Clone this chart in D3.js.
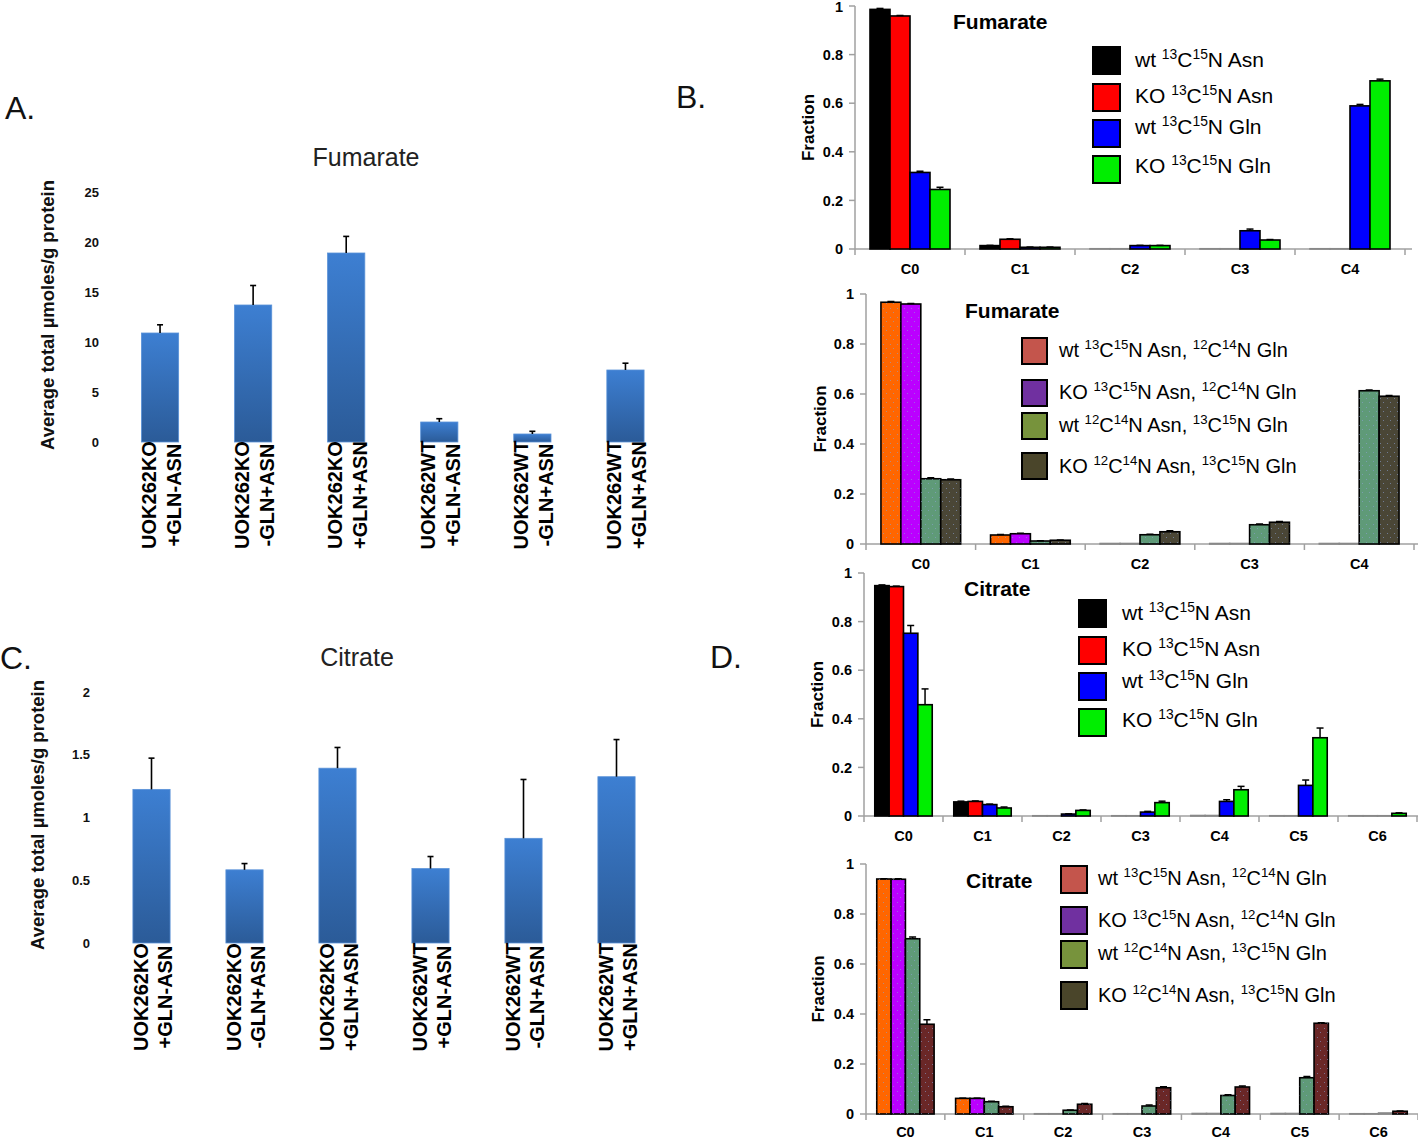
<!DOCTYPE html>
<html><head><meta charset="utf-8">
<script src="https://cdn.jsdelivr.net/npm/d3@7"></script>
<style>
body{margin:0;background:#fff;}
svg{display:block;font-family:"Liberation Sans",Arial,sans-serif;}
</style></head>
<body><svg id="fig" width="1418" height="1139"></svg>
<script>
// ---------- DATA ----------
const totalCatLine1 = ["UOK262KO","UOK262KO","UOK262KO","UOK262WT","UOK262WT","UOK262WT"];
const totalCatLine2 = ["+GLN-ASN","-GLN+ASN","+GLN+ASN","+GLN-ASN","-GLN+ASN","+GLN+ASN"];
const fumTotal    = [10.9, 13.7, 18.9, 2.0, 0.8, 7.2];
const fumTotalErr = [0.82, 1.95, 1.66, 0.33, 0.27, 0.68];
const fumTotalTicks = [0,5,10,15,20,25];
const citTotal    = [1.224, 0.583, 1.393, 0.593, 0.834, 1.325];
const citTotalErr = [0.249, 0.05, 0.165, 0.096, 0.469, 0.296];
const citTotalTicks = [0,0.5,1,1.5,2];

const fumIsoCats = ["C0","C1","C2","C3","C4"];
const citIsoCats = ["C0","C1","C2","C3","C4","C5","C6"];
const fracTicks = [0,0.2,0.4,0.6,0.8,1];

const legendSet1 = [["wt ","13","C","15","N Asn"],["KO ","13","C","15","N Asn"],["wt ","13","C","15","N Gln"],["KO ","13","C","15","N Gln"]];
const legendSet2 = [["wt ","13","C","15","N Asn, ","12","C","14","N Gln"],["KO ","13","C","15","N Asn, ","12","C","14","N Gln"],["wt ","12","C","14","N Asn, ","13","C","15","N Gln"],["KO ","12","C","14","N Asn, ","13","C","15","N Gln"]];

// Fumarate, 13C15N single tracers
const fumB1 = [
  [0.986, 0.014, 0.001, 0.001, 0.001],
  [0.959, 0.040, 0.001, 0.001, 0.001],
  [0.315, 0.007, 0.014, 0.075, 0.589],
  [0.245, 0.007, 0.014, 0.037, 0.692]];
const fumB1Err = [
  [0.004,0.001,0,0,0],
  [0.002,0.002,0,0,0],
  [0.005,0.001,0.001,0.007,0.006],
  [0.009,0.001,0.001,0.002,0.007]];
// Fumarate, dual label
const fumB2 = [
  [0.967, 0.036, 0.002, 0.002, 0.002],
  [0.960, 0.041, 0.002, 0.002, 0.002],
  [0.261, 0.012, 0.037, 0.077, 0.613],
  [0.257, 0.015, 0.049, 0.087, 0.591]];
const fumB2Err = [
  [0.003,0.002,0,0,0],
  [0.002,0.002,0,0,0],
  [0.004,0.001,0.002,0.003,0.003],
  [0.003,0.001,0.004,0.003,0.003]];
// Citrate, single tracers
const citD1 = [
  [0.948, 0.058, 0.001, 0.001, 0.002, 0.001, 0.001],
  [0.944, 0.060, 0.001, 0.001, 0.002, 0.001, 0.001],
  [0.752, 0.047, 0.008, 0.016, 0.060, 0.126, 0.001],
  [0.458, 0.033, 0.023, 0.055, 0.108, 0.322, 0.011]];
const citD1Err = [
  [0.003,0.003,0,0,0,0,0],
  [0.002,0.002,0,0,0,0,0],
  [0.032,0.002,0.001,0.003,0.007,0.022,0],
  [0.065,0.004,0.002,0.006,0.014,0.040,0.002]];
// Citrate, dual label
const citD2 = [
  [0.940, 0.0625, 0.001, 0.001, 0.002, 0.002, 0.001],
  [0.939, 0.0625, 0.001, 0.001, 0.002, 0.002, 0.001],
  [0.701, 0.049, 0.015, 0.032, 0.074, 0.145, 0.004],
  [0.359, 0.029, 0.039, 0.105, 0.108, 0.363, 0.011]];
const citD2Err = [
  [0.001,0.001,0,0,0,0,0],
  [0.002,0.001,0,0,0,0,0],
  [0.007,0.002,0.001,0.004,0.003,0.005,0],
  [0.018,0.002,0.003,0.004,0.004,0.002,0.001]];

// ---------- STYLES ----------
const colSet1 = ["#000000","#ff0000","#0000ff","#00ee00"];
const colB2 = ["#ff6600","#bb00ff","#5f9a78","#4a4636"];
const colD2 = ["#ff6600","#bb00ff","#5f9a78","#6a2727"];
const legCol2 = ["#c4554c","#7030a0","#77933c","#4a452a"];

const svg = d3.select("#fig");
const defs = svg.append("defs");
const grad = defs.append("linearGradient").attr("id","blueGrad").attr("x1",0).attr("y1",0).attr("x2",0).attr("y2",1);
grad.append("stop").attr("offset","0%").attr("stop-color","#3d7fd2");
grad.append("stop").attr("offset","100%").attr("stop-color","#2b5b98");

// dotted pattern overlay for dual-label bars
const pat = defs.append("pattern").attr("id","dots").attr("patternUnits","userSpaceOnUse").attr("width",7).attr("height",9);
pat.append("rect").attr("x",1).attr("y",2).attr("width",1).attr("height",1).attr("fill","#8aa0d0").attr("opacity",0.6);
pat.append("rect").attr("x",4).attr("y",6).attr("width",1).attr("height",1).attr("fill","#8aa0d0").attr("opacity",0.6);

// panel letters
[["A.",5,119],["B.",676,108],["C.",0,669],["D.",710,668]].forEach(([t,x,y])=>{
  svg.append("text").attr("x",x).attr("y",y).attr("font-size",32).attr("fill","#111").text(t);
});

// ---------- TOTAL (A, C) ----------
function totalChart(o){
  const g = svg.append("g");
  const x = d3.scaleBand().domain(d3.range(o.vals.length)).range([o.x0,o.x1]).paddingInner(0.6).paddingOuter(0.3);
  const y = d3.scaleLinear().domain([0,o.max]).range([o.yb,o.yt]);
  g.append("text").attr("x",o.titleX).attr("y",o.titleY).attr("text-anchor","middle")
    .attr("font-size",25).attr("fill","#222").text(o.title);
  const ax = d3.axisLeft(y).tickValues(o.ticks).tickSize(0).tickPadding(0).tickFormat(d3.format("~g"));
  const ag = g.append("g").attr("transform",`translate(${o.tickX},0)`).call(ax);
  ag.select(".domain").remove();
  ag.selectAll("text").attr("font-size",13).attr("font-weight","bold").attr("fill","#111").attr("font-family","Liberation Sans, Arial");
  g.append("text").attr("transform",`translate(${o.ytX},${o.ytY}) rotate(-90)`).attr("text-anchor","middle")
    .attr("dy","0.35em").attr("font-size",18.5).attr("font-weight","bold").attr("fill","#111")
    .text("Average total \u00b5moles/g protein");
  g.selectAll(".bar").data(o.vals).join("rect")
    .attr("x",(d,i)=>x(i)).attr("width",x.bandwidth())
    .attr("y",d=>y(d)).attr("height",d=>y(0)-y(d))
    .attr("fill","url(#blueGrad)").attr("stroke","#5a92d8").attr("stroke-width",0.8);
  o.vals.forEach((v,i)=>{
    const cx = x(i)+x.bandwidth()/2, yt = y(v+o.err[i]);
    g.append("line").attr("x1",cx).attr("x2",cx).attr("y1",y(v)).attr("y2",yt).attr("stroke","#000").attr("stroke-width",1.6);
    g.append("line").attr("x1",cx-3).attr("x2",cx+3).attr("y1",yt).attr("y2",yt).attr("stroke","#000").attr("stroke-width",1.6);
    [[o.l1[i],-4],[o.l2[i],20.5]].forEach(([t,dx])=>{
      g.append("text").attr("transform",`translate(${cx+dx},${o.labY}) rotate(-90)`).attr("text-anchor","middle")
        .attr("font-size",20).attr("font-weight","bold").attr("fill","#000").text(t);
    });
  });
}
totalChart({vals:fumTotal, err:fumTotalErr, ticks:fumTotalTicks, max:25, x0:113.5, x1:672, yb:442, yt:192,
  title:"Fumarate", titleX:366, titleY:166, tickX:99, ytX:48, ytY:315, labY:495, l1:totalCatLine1, l2:totalCatLine2});
totalChart({vals:citTotal, err:citTotalErr, ticks:citTotalTicks, max:2, x0:105, x1:663, yb:943, yt:692,
  title:"Citrate", titleX:357, titleY:666, tickX:90, ytX:38, ytY:815, labY:997, l1:totalCatLine1, l2:totalCatLine2});

// ---------- ISOTOPOLOGUE (B, D) ----------
function supText(sel, parts, size){
  const t = sel;
  parts.forEach((p,i)=>{
    const isSup = /^\d+$/.test(p);
    const prevSup = i>0 && /^\d+$/.test(parts[i-1]);
    const ts = t.append("tspan").text(p);
    if(isSup){ ts.attr("font-size",size*0.66).attr("dy", prevSup? 0 : -size*0.38); }
    else if(prevSup){ ts.attr("dy", size*0.38); }
  });
}
function isoChart(o){
  const g = svg.append("g");
  const x = d3.scaleBand().domain(o.cats).range([o.ax,o.x1]).paddingInner(0).paddingOuter(0);
  const y = d3.scaleLinear().domain([0,1]).range([o.yb,o.yt]);
  const bw = x.bandwidth()/5.5;
  const xs = d3.scaleBand().domain(d3.range(4)).range([0.75*bw, 4.75*bw]);
  // axes
  g.append("line").attr("x1",o.ax).attr("x2",o.ax).attr("y1",o.yt).attr("y2",o.yb).attr("stroke","#a0a0a0").attr("stroke-width",1.5);
  g.append("line").attr("x1",o.ax).attr("x2",o.axEnd).attr("y1",o.yb).attr("y2",o.yb).attr("stroke","#a0a0a0").attr("stroke-width",1.5);
  fracTicks.forEach(t=>{
    g.append("line").attr("x1",o.ax-6).attr("x2",o.ax).attr("y1",y(t)).attr("y2",y(t)).attr("stroke","#a0a0a0").attr("stroke-width",1.5);
    g.append("text").attr("x",o.ax-12).attr("y",Math.max(y(t),7)).attr("dy","0.36em").attr("text-anchor","end")
      .attr("font-size",14.5).attr("font-weight","bold").attr("fill","#000").text(d3.format("~g")(t));
  });
  o.cats.forEach((c,i)=>{
    g.append("line").attr("x1",x(c)).attr("x2",x(c)).attr("y1",o.yb).attr("y2",o.yb+6).attr("stroke","#a0a0a0").attr("stroke-width",1.5);
    if(i===o.cats.length-1) g.append("line").attr("x1",x(c)+x.bandwidth()).attr("x2",x(c)+x.bandwidth()).attr("y1",o.yb).attr("y2",o.yb+6).attr("stroke","#a0a0a0").attr("stroke-width",1.5);
    g.append("text").attr("x",x(c)+x.bandwidth()/2).attr("y",Math.min(o.yb+24.5,1137)).attr("text-anchor","middle")
      .attr("font-size",14.5).attr("font-weight","bold").attr("fill","#000").text(c);
  });
  g.append("text").attr("transform",`translate(${o.ytX},${(o.yt+o.yb)/2}) rotate(-90)`).attr("text-anchor","middle")
    .attr("dy","0.35em").attr("font-size",17).attr("font-weight","bold").attr("fill","#000").text("Fraction");
  // bars
  o.series.forEach((s,si)=>{
    s.forEach((v,ci)=>{
      const bx = x(o.cats[ci]) + xs(si);
      g.append("rect").attr("x",bx).attr("width",xs.bandwidth()).attr("y",y(v)).attr("height",y(0)-y(v))
        .attr("fill",o.colors[si]).attr("stroke", v>0.004? "#000":"#888").attr("stroke-width",1.6);
      if(o.dots && v>0.004) g.append("rect").attr("x",bx).attr("width",xs.bandwidth()).attr("y",y(v)).attr("height",y(0)-y(v)).attr("fill","url(#dots)");
      const e = o.err[si][ci];
      if(e>0){
        const cx = bx + xs.bandwidth()/2, yt = y(v+e);
        g.append("line").attr("x1",cx).attr("x2",cx).attr("y1",y(v)).attr("y2",yt).attr("stroke","#000").attr("stroke-width",1.5);
        g.append("line").attr("x1",cx-3.5).attr("x2",cx+3.5).attr("y1",yt).attr("y2",yt).attr("stroke","#000").attr("stroke-width",1.5);
      }
    });
  });
  // title
  g.append("text").attr("x",o.titleX).attr("y",o.titleY).attr("dy","0.35em").attr("font-size",21).attr("font-weight","bold").attr("fill","#000").text(o.title);
  // legend
  o.legend.forEach((parts,i)=>{
    g.append("rect").attr("x",o.lx).attr("y",o.ltops[i]).attr("width",o.lw).attr("height",o.lh)
      .attr("fill",o.legColors[i]).attr("stroke","#000").attr("stroke-width",2);
    const t = g.append("text").attr("x",o.ltx).attr("y",o.lcy[i]+7).attr("font-size",o.lfs).attr("fill","#000");
    supText(t, parts, o.lfs);
  });
}
isoChart({cats:fumIsoCats, series:fumB1, err:fumB1Err, colors:colSet1, legColors:colSet1, legend:legendSet1,
  ax:855, x1:1405, axEnd:1412, yt:6, yb:249, ytX:808, title:"Fumarate", titleX:953, titleY:22,
  lx:1093, lw:27, lh:27, ltops:[47,84,120,156], ltx:1135, lcy:[60,96,127,166], lfs:21});
isoChart({cats:fumIsoCats, series:fumB2, err:fumB2Err, colors:colB2, legColors:legCol2, legend:legendSet2, dots:true,
  ax:866, x1:1414, axEnd:1418, yt:294, yb:544, ytX:820, title:"Fumarate", titleX:965, titleY:311,
  lx:1022, lw:25, lh:26, ltops:[338,380,413,453], ltx:1059, lcy:[350,392,425,466], lfs:20});
isoChart({cats:citIsoCats, series:citD1, err:citD1Err, colors:colSet1, legColors:colSet1, legend:legendSet1,
  ax:864, x1:1417, axEnd:1418, yt:573, yb:816, ytX:817, title:"Citrate", titleX:964, titleY:589,
  lx:1079, lw:27, lh:27, ltops:[600,637,673,709], ltx:1122, lcy:[613,649,681,720], lfs:21});
isoChart({cats:citIsoCats, series:citD2, err:citD2Err, colors:colD2, legColors:legCol2, legend:legendSet2, dots:true,
  ax:866, x1:1418, axEnd:1418, yt:864, yb:1114, ytX:818, title:"Citrate", titleX:966, titleY:881,
  lx:1061, lw:26, lh:27, ltops:[866,907,941,982], ltx:1098, lcy:[878,920,953,995], lfs:20});
</script></body></html>
